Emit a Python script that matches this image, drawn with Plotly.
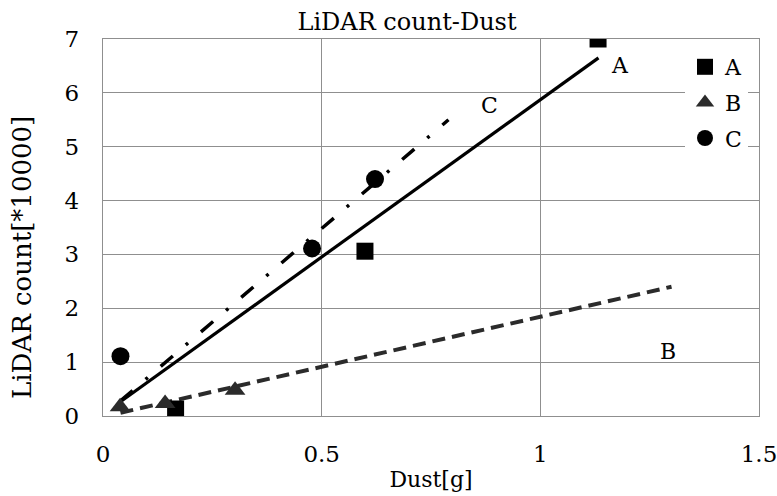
import plotly.graph_objects as go

# ---- data ----
series_names = ["A", "B", "C"]
dust_A = [0.166, 0.599, 1.132]
count_A = [0.13, 3.06, 7.00]
dust_B = [0.039, 0.142, 0.302]
count_B = [0.17, 0.23, 0.48]
dust_C = [0.040, 0.478, 0.622]
count_C = [1.11, 3.11, 4.40]

# trend lines (endpoints as read)
trend_A_x = [0.039, 1.133]
trend_A_y = [0.26, 6.65]
trend_B_x = [0.040, 1.300]
trend_B_y = [0.06, 2.40]
trend_C_x = [0.040, 0.790]
trend_C_y = [0.28, 5.50]

x_ticks = [0, 0.5, 1, 1.5]
x_tick_labels = ["0", "0.5", "1", "1.5"]
y_ticks = [0, 1, 2, 3, 4, 5, 6, 7]

FONT = "DejaVu Serif"
GRID = "#8f8f8f"

fig = go.Figure()

# trend lines
fig.add_trace(go.Scatter(x=trend_A_x, y=trend_A_y, mode="lines",
                         line=dict(color="black", width=3.2, dash="solid"),
                         showlegend=False, hoverinfo="skip"))
fig.add_trace(go.Scatter(x=trend_B_x, y=trend_B_y, mode="lines",
                         line=dict(color="#2b2b2b", width=4, dash="13px,7px"),
                         showlegend=False, hoverinfo="skip"))
fig.add_trace(go.Scatter(x=trend_C_x, y=trend_C_y, mode="lines",
                         line=dict(color="black", width=3.5, dash="16px,17px,3px,17px"),
                         showlegend=False, hoverinfo="skip"))

# data points
fig.add_trace(go.Scatter(x=dust_A, y=count_A, mode="markers", name=series_names[0],
                         legendgroup="A",
                         marker=dict(symbol="square", size=17, color="black")))
fig.add_trace(go.Scatter(x=dust_B, y=count_B, mode="markers", name=series_names[1],
                         legendgroup="B",
                         marker=dict(symbol="triangle-up", size=18, color="#2b2b2b")))
fig.add_trace(go.Scatter(x=dust_C, y=count_C, mode="markers", name=series_names[2],
                         legendgroup="C",
                         marker=dict(symbol="circle", size=18, color="black")))

L, R, T, B = 103, 18, 39, 80
W, H = 777, 496
pw, ph = W - L - R, H - T - B

annotations = [
    dict(x=1.183, y=6.50, text="A", showarrow=False, xref="x", yref="y",
         font=dict(family=FONT, size=22, color="black")),
    dict(x=0.883, y=5.76, text="C", showarrow=False, xref="x", yref="y",
         font=dict(family=FONT, size=22, color="black")),
    dict(x=1.292, y=1.20, text="B", showarrow=False, xref="x", yref="y",
         font=dict(family=FONT, size=22, color="black")),
    dict(x=(22 - L) / pw, y=(H - B - 258) / ph, xref="paper", yref="paper",
         xanchor="center", yanchor="middle",
         text="LiDAR count[*10000]", showarrow=False, textangle=-90,
         font=dict(family=FONT, size=26, color="black")),
]

fig.update_layout(
    width=W, height=H,
    margin=dict(l=L, r=R, t=T, b=B, pad=0, autoexpand=False),
    paper_bgcolor="white", plot_bgcolor="white",
    font=dict(family=FONT, color="black"),
    title=dict(text="LiDAR count-Dust", x=407 / W, xanchor="center",
               y=1 - 22 / H, yanchor="middle", automargin=False,
               font=dict(family=FONT, size=24, color="black")),
    xaxis=dict(range=[0, 1.5], tickvals=x_ticks, ticktext=x_tick_labels,
               showgrid=True, gridcolor=GRID, gridwidth=1.3,
               showline=True, linecolor=GRID, linewidth=1.3, mirror=True,
               zeroline=False, ticks="", ticklabelstandoff=17,
               ticklabeloverflow="allow", automargin=False,
               tickfont=dict(family=FONT, size=23, color="black"),
               title=dict(text="Dust[g]", standoff=5,
                          font=dict(family=FONT, size=22, color="black"))),
    yaxis=dict(range=[0, 7], tickvals=y_ticks,
               showgrid=True, gridcolor=GRID, gridwidth=1.3,
               showline=True, linecolor=GRID, linewidth=1.3, mirror=True,
               zeroline=False, ticks="", ticklabelstandoff=18,
               ticklabeloverflow="allow", automargin=False,
               tickfont=dict(family=FONT, size=23, color="black")),
    legend=dict(x=(685 - L) / pw, y=(H - B - 46) / ph, xanchor="left", yanchor="top",
                bgcolor="white", borderwidth=0, traceorder="grouped",
                tracegroupgap=4, itemwidth=30,
                font=dict(family=FONT, size=22, color="black")),
    annotations=annotations,
    showlegend=True,
)

fig.write_html("out.html",
               config={"displayModeBar": False},
               post_script="document.body.style.margin='0px';document.body.style.overflow='hidden';")
